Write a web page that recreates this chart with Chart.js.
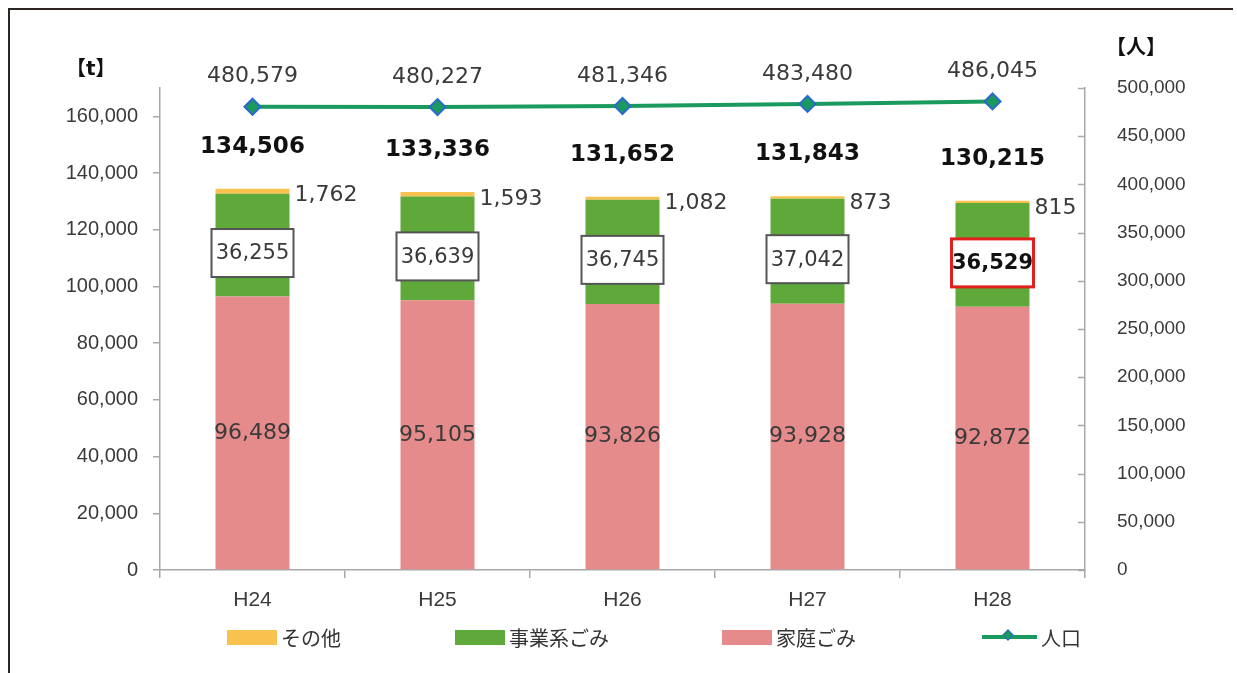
<!DOCTYPE html>
<html>
<head>
<meta charset="utf-8">
<script src="https://cdn.jsdelivr.net/npm/chart.js@4"></script>
<style>
html,body{margin:0;padding:0;background:#fff;}
#wrap{position:relative;width:1237px;height:673px;overflow:hidden;background:#fff;}
#c{position:absolute;left:0;top:0;}
.frameTop{position:absolute;left:8px;top:8px;width:1225px;height:2px;background:#2e2622;}
.frameLeft{position:absolute;left:8px;top:8px;width:2px;height:665px;background:#2e2622;}
.axt{position:absolute;font:bold 20px "DejaVu Sans","Noto Sans CJK JP";color:#111;}
.lg{position:absolute;top:624px;height:26px;display:flex;align-items:center;font:20px "Noto Sans CJK JP";color:#333;}
.lg .bx{display:inline-block;width:50px;height:15px;margin-right:4px;}
.lg .ln{position:relative;display:inline-block;width:55px;height:4px;margin-right:4px;background:#1a9a5e;}
.lg .ln i{position:absolute;left:22px;top:-4px;width:8px;height:8px;background:#1a9a5e;border:1px solid #2a6ac8;transform:rotate(45deg);box-sizing:border-box;}
</style>
</head>
<body>
<div id="wrap">
<canvas id="c" width="1237" height="673"></canvas>
<div class="frameTop"></div>
<div class="frameLeft"></div>
<div class="axt" style="left:66px;top:52px;">【t】</div>
<div class="axt" style="left:1106px;top:31px;">【人】</div>
<div class="lg" style="left:227px;"><span class="bx" style="background:#f9c24f"></span>その他</div>
<div class="lg" style="left:455px;"><span class="bx" style="background:#5fa83a"></span>事業系ごみ</div>
<div class="lg" style="left:722px;"><span class="bx" style="background:#e68b8b"></span>家庭ごみ</div>
<div class="lg" style="left:982px;"><span class="ln"><i></i></span>人口</div>
</div>
<script>
const categories = ['H24', 'H25', 'H26', 'H27', 'H28'];
const household = [96489, 95105, 93826, 93928, 92872];
const business = [36255, 36639, 36745, 37042, 36529];
const other = [1762, 1593, 1082, 873, 815];
const totals = [134506, 133336, 131652, 131843, 130215];
const population = [480579, 480227, 481346, 483480, 486045];
const leftTicks = [0, 20000, 40000, 60000, 80000, 100000, 120000, 140000, 160000];
const rightTicks = [0, 50000, 100000, 150000, 200000, 250000, 300000, 350000, 400000, 450000, 500000];
const highlightIndex = 4;

const fmt = v => Number(v).toLocaleString('en-US');
const AXIS = '#a8a8a8';
const TICKFONT = {family: 'Liberation Sans', size: 20};

const labelPlugin = {
  id: 'labels',
  afterDatasetsDraw(chart) {
    const ctx = chart.ctx;
    const mH = chart.getDatasetMeta(0), mB = chart.getDatasetMeta(1), mO = chart.getDatasetMeta(2), mP = chart.getDatasetMeta(3);
    ctx.save();
    ctx.textAlign = 'center';
    ctx.textBaseline = 'middle';
    categories.forEach((c, i) => {
      const h = mH.data[i];
      ctx.font = '22px "DejaVu Sans"';
      ctx.fillStyle = '#3a3a3a';
      ctx.fillText(fmt(household[i]), h.x, (h.y + h.base) / 2);
      const b = mB.data[i];
      const cy = (b.y + b.base) / 2 + 8;
      const bw = 82, bh = 48;
      ctx.fillStyle = '#fff';
      ctx.fillRect(b.x - bw / 2, cy - bh / 2, bw, bh);
      if (i === highlightIndex) {
        ctx.strokeStyle = '#e0201c'; ctx.lineWidth = 3;
        ctx.font = 'bold 21px "DejaVu Sans"';
      } else {
        ctx.strokeStyle = '#555'; ctx.lineWidth = 2;
        ctx.font = '21px "DejaVu Sans"';
      }
      ctx.strokeRect(b.x - bw / 2, cy - bh / 2, bw, bh);
      ctx.fillStyle = i === highlightIndex ? '#111' : '#3a3a3a';
      ctx.fillText(fmt(business[i]), b.x, cy + 1);
      const o = mO.data[i];
      ctx.textAlign = 'left';
      ctx.font = '22px "DejaVu Sans"';
      ctx.fillStyle = '#3a3a3a';
      ctx.fillText(fmt(other[i]), o.x + o.width / 2 + 5, o.y + 7);
      ctx.textAlign = 'center';
      ctx.font = 'bold 23px "DejaVu Sans"';
      ctx.fillStyle = '#111';
      ctx.fillText(fmt(totals[i]), o.x, o.y - 42);
      const p = mP.data[i];
      ctx.font = '22px "DejaVu Sans"';
      ctx.fillStyle = '#3a3a3a';
      ctx.fillText(fmt(population[i]), p.x, p.y - 30);
    });
    ctx.restore();
  },
  afterDraw(chart) {
    const s = chart.scales.y1;
    const ctx = chart.ctx;
    ctx.save();
    ctx.strokeStyle = AXIS;
    ctx.lineWidth = 1.5;
    rightTicks.forEach(v => {
      const y = Math.round(s.getPixelForValue(v)) + 0.5;
      ctx.beginPath();
      ctx.moveTo(s.left - 7, y);
      ctx.lineTo(s.left, y);
      ctx.stroke();
    });
    ctx.restore();
  }
};

const barCommon = {type: 'bar', stack: 's', yAxisID: 'y', barPercentage: 0.4, categoryPercentage: 1, order: 1};

new Chart(document.getElementById('c'), {
  data: {
    labels: categories,
    datasets: [
      Object.assign({label: '家庭ごみ', data: household, backgroundColor: '#e68b8b'}, barCommon),
      Object.assign({label: '事業系ごみ', data: business, backgroundColor: '#5fa83a'}, barCommon),
      Object.assign({label: 'その他', data: other, backgroundColor: '#f9c24f'}, barCommon),
      {type: 'line', label: '人口', data: population, yAxisID: 'y1', order: 0,
       borderColor: '#1a9a5e', borderWidth: 4, pointStyle: 'rectRot', pointRadius: 8,
       pointBackgroundColor: '#1a9a5e', pointBorderColor: '#2a6ac8', pointBorderWidth: 2, tension: 0}
    ]
  },
  options: {
    responsive: false,
    maintainAspectRatio: false,
    animation: false,
    layout: {padding: {top: 88, left: 0, right: 0, bottom: 0}},
    plugins: {legend: {display: false}, tooltip: {enabled: false}},
    scales: {
      x: {
        stacked: true,
        grid: {display: true, offset: true, drawOnChartArea: false, drawTicks: true, tickLength: 8, color: AXIS, lineWidth: 1.5},
        border: {color: AXIS, width: 1.5},
        ticks: {font: {family: 'Liberation Sans', size: 21}, color: '#3a3a3a', padding: 10},
        afterFit: s => { s.height = 103; }
      },
      y: {
        stacked: true,
        position: 'left',
        min: 0, max: 170000,
        afterBuildTicks: s => { s.ticks = leftTicks.map(v => ({value: v})); },
        grid: {drawOnChartArea: false, drawTicks: true, tickLength: 7, color: AXIS, lineWidth: 1.5},
        border: {color: AXIS, width: 1.5},
        ticks: {font: TICKFONT, color: '#3a3a3a', padding: 15, callback: v => fmt(v)},
        afterFit: s => { s.width = 160; }
      },
      y1: {
        position: 'right',
        min: 0, max: 500000,
        afterBuildTicks: s => { s.ticks = rightTicks.map(v => ({value: v})); },
        grid: {display: false},
        border: {display: true, color: AXIS, width: 1.5},
        ticks: {font: {family: 'Liberation Sans', size: 19}, color: '#3a3a3a', padding: 24, callback: v => fmt(v)},
        afterFit: s => { s.width = 152; }
      }
    }
  },
  plugins: [labelPlugin]
});
</script>
</body>
</html>
